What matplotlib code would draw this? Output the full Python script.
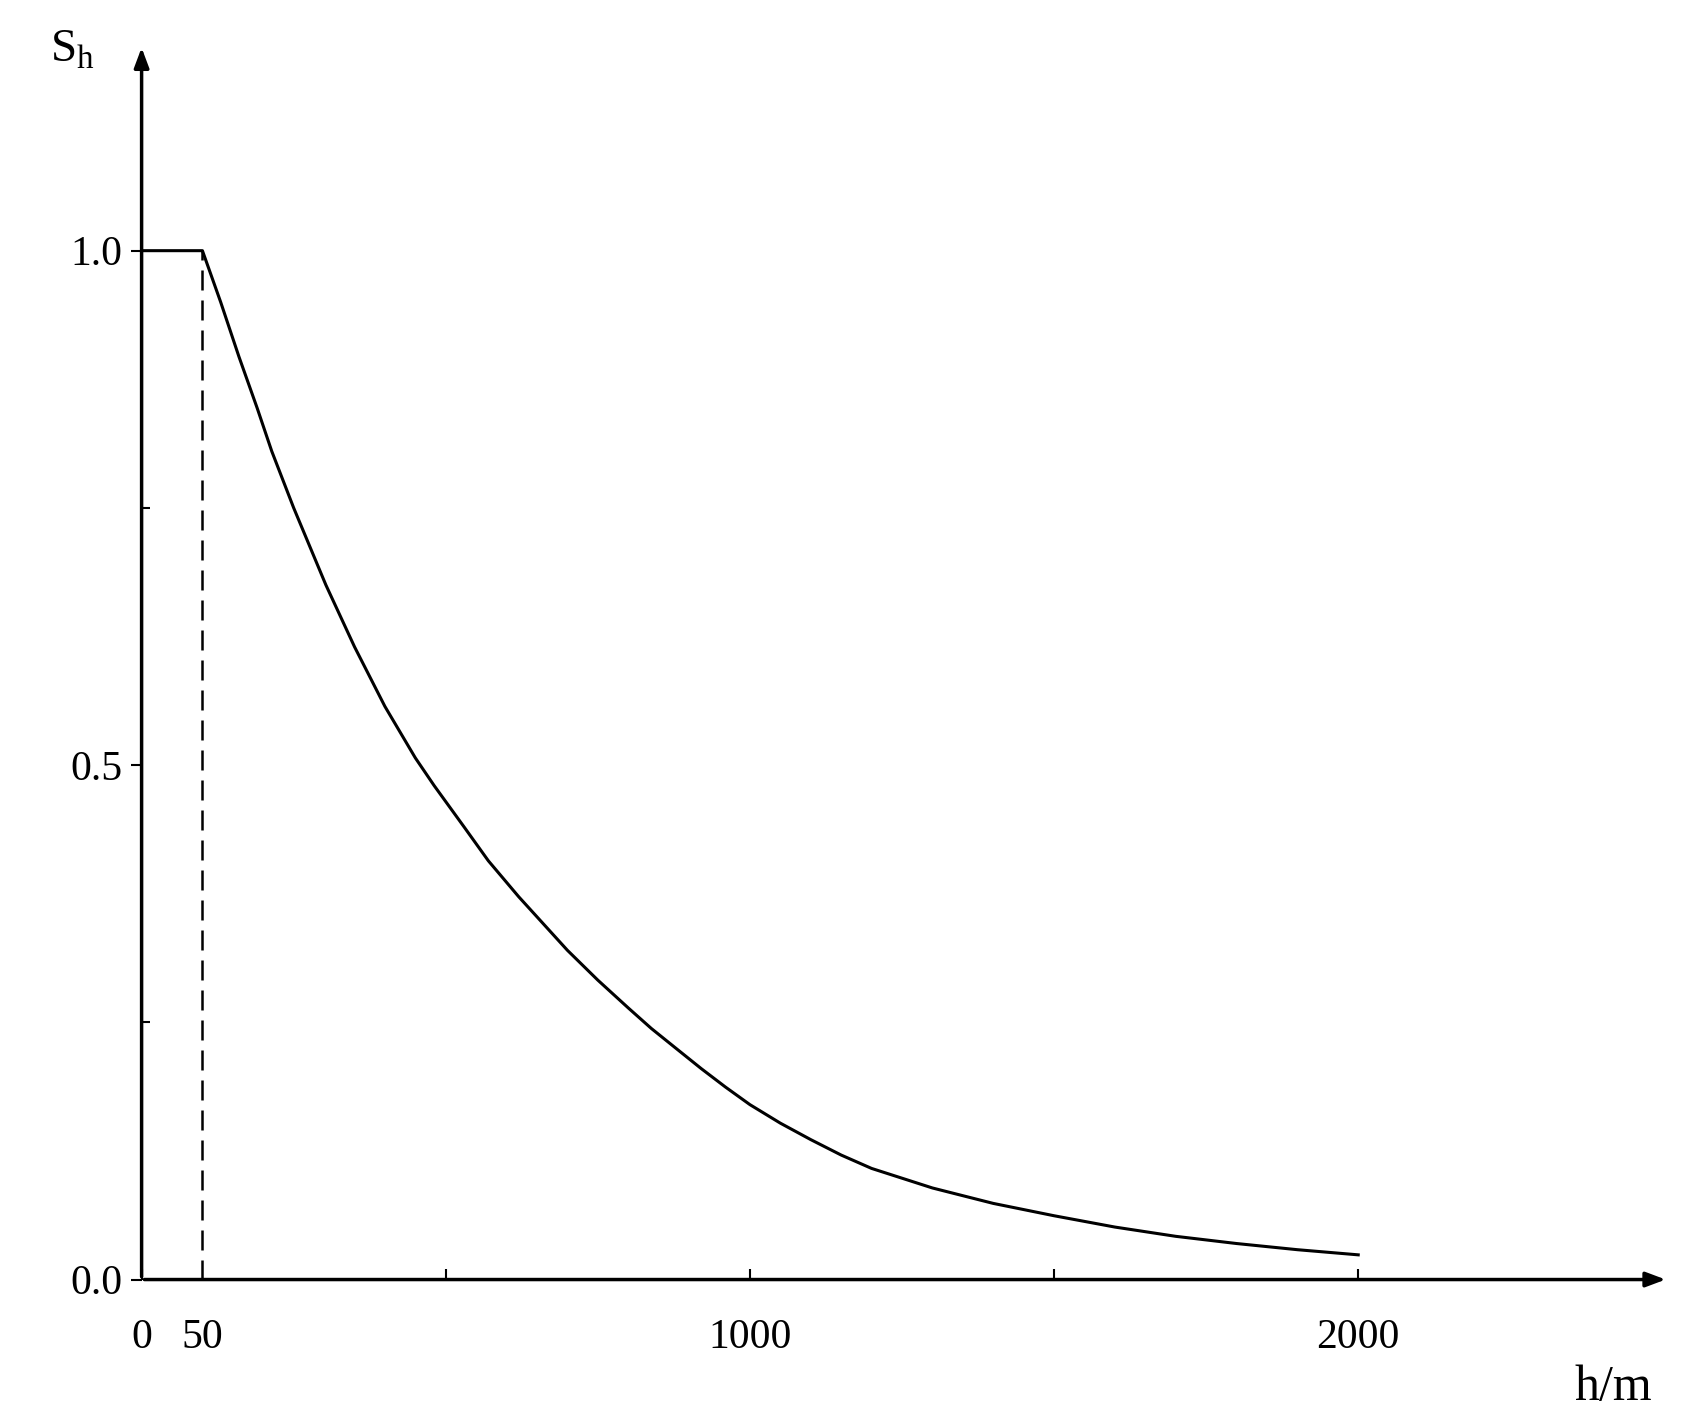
import matplotlib
matplotlib.use("Agg")
import matplotlib.pyplot as plt

plt.rcParams['font.family'] = ['Liberation Serif', 'DejaVu Serif']

# curve values
h_vals = [0, 100, 130, 160, 190, 214, 250, 303, 350, 400, 450, 481, 530, 570, 620, 660, 700, 750,
          800, 838, 880, 920, 960, 1000, 1050, 1100, 1150, 1200, 1300, 1400, 1500, 1600, 1700, 1800, 1900, 2000]
s_vals = [1.0, 1.0, 0.95, 0.897, 0.847, 0.805, 0.75, 0.675, 0.615, 0.557, 0.507, 0.48, 0.44, 0.407, 0.372,
          0.346, 0.32, 0.291, 0.264, 0.244, 0.224, 0.205, 0.187, 0.17, 0.152, 0.136, 0.121, 0.108, 0.089,
          0.074, 0.062, 0.051, 0.042, 0.035, 0.029, 0.024]
x_tick_pos = [0, 100, 1000, 2000]
x_tick_labels = ["0", "50", "1000", "2000"]
y_tick_pos = [0.0, 0.5, 1.0]
y_tick_labels = ["0.0", "0.5", "1.0"]

fig = plt.figure(figsize=(17.06, 14.03), dpi=100)
ax = fig.add_axes([0.083, 0.088, 0.895, 0.88])
ax.set_xlim(0, 2510)
ax.set_ylim(0, 1.2)
for s in ax.spines.values():
    s.set_visible(False)

ax.plot(h_vals, s_vals, color='black', lw=2.2)
ax.plot([100, 100], [0, 1.0], color='black', lw=1.8, ls=(0, (8, 4)))

kw = dict(arrowstyle='-|>,head_length=1.2,head_width=0.45', color='black', lw=2.5)
ax.annotate('', xy=(2510, 0), xytext=(0, 0), xycoords='data', arrowprops=kw, annotation_clip=False)
ax.annotate('', xy=(0, 1.2), xytext=(0, 0), xycoords='data', arrowprops=kw, annotation_clip=False)

ax.set_xticks(x_tick_pos)
ax.set_xticklabels(x_tick_labels, fontsize=30)
ax.set_xticks([500, 1500], minor=True)
ax.set_yticks(y_tick_pos)
ax.set_yticklabels(y_tick_labels, fontsize=30)
ax.set_yticks([0.25, 0.75], minor=True)
ax.tick_params(axis='x', which='both', direction='in', length=8, width=1.5, pad=28)
ax.tick_params(axis='y', which='major', direction='out', length=8, width=1.5, pad=6)
ax.tick_params(axis='y', which='minor', direction='in', length=6, width=1.5)
ax.xaxis.get_major_ticks()[1].tick1line.set_visible(False)

ax.text(-0.045, 1.195, r'S$_{\mathregular{h}}$', transform=ax.get_yaxis_transform(), fontsize=34, ha='center', va='center')
ax.text(2420, -0.105, 'h/m', fontsize=36, ha='center', va='center')

fig.savefig('out.png', dpi=100)
